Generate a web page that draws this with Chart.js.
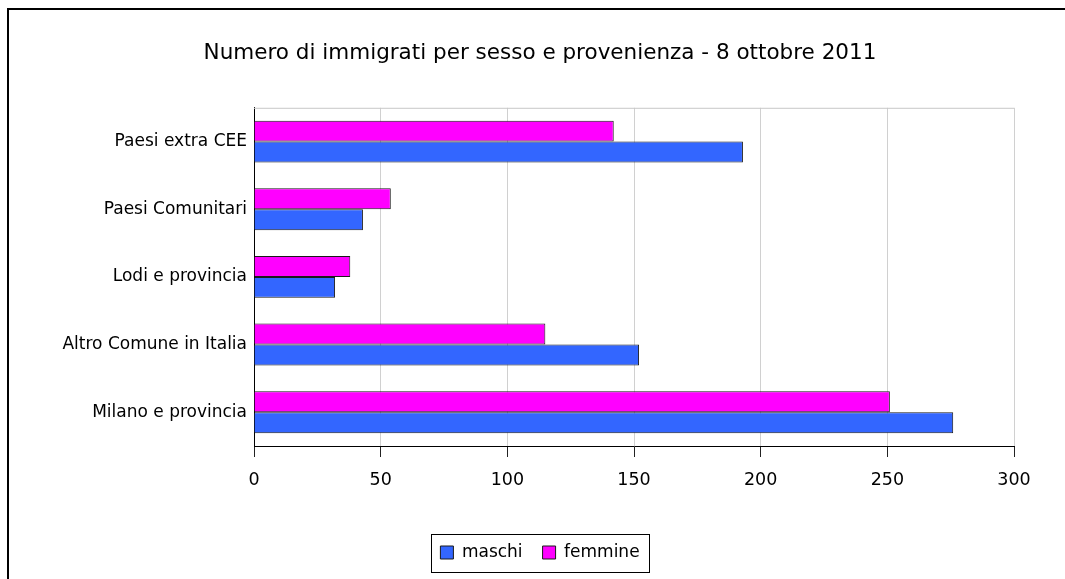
<!DOCTYPE html>
<html>
<head>
<meta charset="utf-8">
<script src="https://cdn.jsdelivr.net/npm/chart.js@4/dist/chart.umd.min.js"></script>
<style>
  html, body { margin: 0; padding: 0; background: #fff; }
  canvas { display: block; }
</style>
</head>
<body>
<canvas id="c" width="1065" height="579"></canvas>
<script>
const titleText = 'Numero di immigrati per sesso e provenienza - 8 ottobre 2011';
const categories = ['Paesi extra CEE', 'Paesi Comunitari', 'Lodi e provincia', 'Altro Comune in Italia', 'Milano e provincia'];
const maschi = [193, 43, 32, 152, 276];
const femmine = [142, 54, 38, 115, 251];
const xTicks = [0, 50, 100, 150, 200, 250, 300];

const FONT = 'DejaVu Sans';

const frame = {
  id: 'frame',
  beforeDraw(chart) {
    const ctx = chart.ctx;
    ctx.save();
    ctx.fillStyle = '#fff';
    ctx.fillRect(0, 0, chart.width, chart.height);
    ctx.strokeStyle = '#000';
    ctx.lineWidth = 2;
    ctx.beginPath();
    ctx.moveTo(8, chart.height + 10);
    ctx.lineTo(8, 9);
    ctx.lineTo(chart.width + 10, 9);
    ctx.stroke();
    ctx.restore();
  },
  beforeDatasetsDraw(chart) {
    const ctx = chart.ctx, a = chart.chartArea;
    ctx.save();
    ctx.strokeStyle = '#c8c8c8';
    ctx.lineWidth = 1;
    ctx.beginPath();
    ctx.moveTo(a.left, a.top + 0.5);
    ctx.lineTo(a.right, a.top + 0.5);
    ctx.stroke();
    ctx.restore();
  },
  afterDraw(chart) {
    const hb = chart.legend && chart.legend.legendHitBoxes;
    if (!hb || !hb.length) return;
    let minX = Infinity, maxX = -Infinity, top = Infinity, bot = -Infinity;
    hb.forEach(b => {
      minX = Math.min(minX, b.left); maxX = Math.max(maxX, b.left + b.width);
      top = Math.min(top, b.top); bot = Math.max(bot, b.top + b.height);
    });
    const ctx = chart.ctx;
    ctx.save();
    ctx.strokeStyle = '#000';
    ctx.lineWidth = 1;
    ctx.strokeRect(Math.round(minX - 9) + 0.5, Math.round(top - 10.5) + 0.5,
                   Math.round(maxX - minX + 19), Math.round(bot - top + 21));
    ctx.restore();
  }
};

new Chart(document.getElementById('c'), {
  type: 'bar',
  data: {
    labels: categories,
    datasets: [
      { label: 'femmine', data: femmine, backgroundColor: '#FF00FF', borderColor: '#1a1a1a', borderWidth: 1,
        categoryPercentage: 0.62, barPercentage: 1.0 },
      { label: 'maschi', data: maschi, backgroundColor: '#3366FF', borderColor: '#1a1a1a', borderWidth: 1,
        categoryPercentage: 0.62, barPercentage: 1.0 }
    ]
  },
  options: {
    indexAxis: 'y',
    responsive: false,
    animation: false,
    layout: { padding: { left: 45, right: 30, top: 0, bottom: 8 } },
    plugins: {
      title: {
        display: true,
        text: titleText,
        color: '#000',
        font: { family: FONT, size: 21.5, weight: 'normal' },
        padding: { top: 41, bottom: 41 }
      },
      legend: {
        position: 'bottom',
        reverse: true,
        labels: {
          color: '#000',
          boxWidth: 13,
          boxHeight: 13,
          padding: 20,
          font: { family: FONT, size: 17 }
        }
      },
      tooltip: { enabled: false }
    },
    scales: {
      x: {
        min: 0, max: 300,
        afterBuildTicks(scale) { scale.ticks = xTicks.map(v => ({ value: v })); },
        afterFit(scale) { scale.height = 78; scale.paddingLeft = 0; scale.paddingRight = 51; },
        grid: {
          color: c => (c.tick && c.tick.value === 0) ? '#000' : '#d0d0d0',
          tickColor: '#222',
          tickLength: 11,
          lineWidth: 1
        },
        border: { display: true, color: '#000', width: 1 },
        ticks: { color: '#000', padding: 13, font: { family: FONT, size: 17.5 } }
      },
      y: {
        afterFit(scale) { scale.width = 209; scale.paddingTop = 0; scale.paddingBottom = 0; },
        grid: { display: false, drawTicks: false },
        border: { display: true, color: '#000', width: 1 },
        ticks: { color: '#000', padding: 7, font: { family: FONT, size: 17 } }
      }
    }
  },
  plugins: [frame]
});
</script>
</body>
</html>
